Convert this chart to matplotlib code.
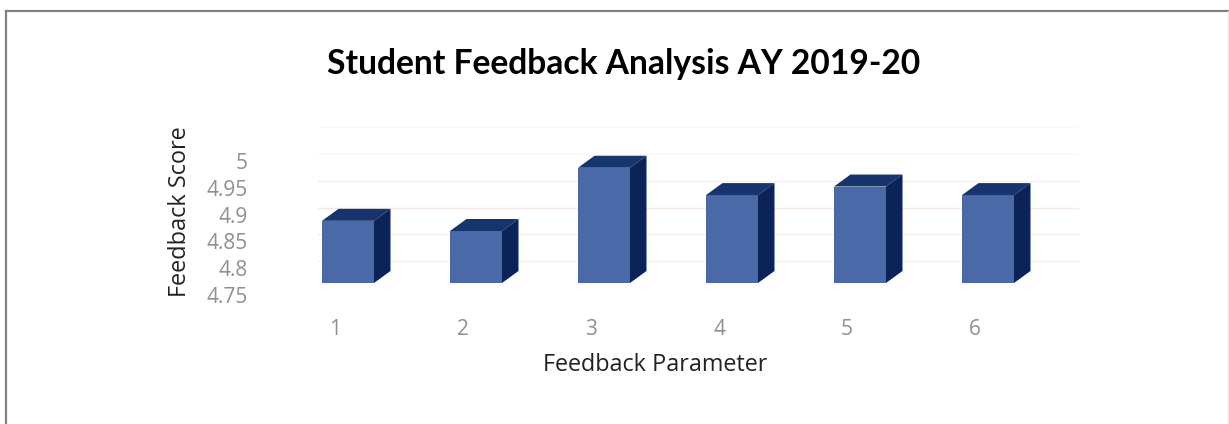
import matplotlib
matplotlib.use("Agg")
import matplotlib.pyplot as plt
from matplotlib.lines import Line2D
from matplotlib.patches import Polygon
from matplotlib.transforms import ScaledTranslation

# values
params = [1, 2, 3, 4, 5, 6]
scores = [4.866, 4.847, 4.965, 4.914, 4.93, 4.914]
yticks = [4.75, 4.8, 4.85, 4.9, 4.95, 5]
ylabels = ['4.75', '4.8', '4.85', '4.9', '4.95', '5']
grid_levels = [4.8, 4.85, 4.9, 4.95, 5, 5.05]
grid_colors = ['#f8eeee', '#f7eded', '#f7e9e9', '#f8ecec', '#f9f6f6', '#fbfafa']

W, H = 1229, 424
plt.rcParams['font.family'] = ['Open Sans', 'DejaVu Sans']
fig = plt.figure(figsize=(W/100, H/100), dpi=100, facecolor='white')

# axes placed in pixels: x=1 sits at 348 px, 128 px per category
left, right, top, bottom = 262, 1078, 120, 283
ax = fig.add_axes([left/W, 1-bottom/H, (right-left)/W, (bottom-top)/H])
ax.set_xlim(1+(left-348)/128, 1+(right-348)/128)
ppv = 26.8/0.05  # px per unit of score
ax.set_ylim(4.75, 4.75+(bottom-top)/ppv)
for s in ax.spines.values():
    s.set_visible(False)

# 3d look
bar_w = 52/128
dx = 16.5/128
dy = 12/ppv
front = '#4a69a8'
roof = '#17346f'
side = '#0c2358'

# faint back wall lines, they sit a bit lower than the front scale
grid_shift = ScaledTranslation(0, -5/100, fig.dpi_scale_trans)
for g, c in zip(grid_levels, grid_colors):
    ax.plot([1+(318-348)/128, ax.get_xlim()[1]], [g, g], color=c, lw=1,
            transform=ax.transData+grid_shift, zorder=1, clip_on=False)

ax.bar(params, [s-4.75 for s in scores], bottom=4.75, width=bar_w, color=front, zorder=3)
for p, s in zip(params, scores):
    x0, x1 = p-bar_w/2, p+bar_w/2
    ax.add_patch(Polygon([(x0, s), (x1, s), (x1+dx, s+dy), (x0+dx, s+dy)], color=roof, lw=0, zorder=3))
    ax.add_patch(Polygon([(x1, 4.75), (x1+dx, 4.75+dy), (x1+dx, s+dy), (x1, s)], color=side, lw=0, zorder=3))

ax.set_xticks(params)
ax.set_xticklabels(params)
ax.set_yticks(yticks)
ax.set_yticklabels(ylabels)
ax.tick_params(length=0, labelcolor='#8f8f8f', labelsize=15)
ax.tick_params(axis='y', pad=10)
ax.tick_params(axis='x', pad=26)

# labels are drawn down and left of the front face, like the 3d original
xoff = ScaledTranslation(-13/100, 0, fig.dpi_scale_trans)
yoff = ScaledTranslation(0, -12/100, fig.dpi_scale_trans)
for lab in ax.get_xticklabels():
    lab.set_transform(lab.get_transform()+xoff)
for lab in ax.get_yticklabels():
    lab.set_transform(lab.get_transform()+yoff)

fig.text(624/W, 1-64/H, 'Student Feedback Analysis AY 2019-20', fontsize=24.2, fontweight='bold',
         family=['Lato', 'DejaVu Sans'], color='black', ha='center', va='center')
fig.text(180/W, 1-212/H, 'Feedback Score', fontsize=16.9, color='#222222', rotation=90,
         ha='center', va='center')
fig.text(655/W, 1-365/H, 'Feedback Parameter', fontsize=16.8, color='#222222', ha='center', va='center')

# scanned frame
frame = '#808080'
fig.add_artist(Line2D([6/W, 1], [1-11/H, 1-11/H], color=frame, lw=1.6))
fig.add_artist(Line2D([6/W, 6/W], [0, 1-11/H], color=frame, lw=1.6))
fig.add_artist(Line2D([1228/W, 1228/W], [0, 1-11/H], color='#e4e4e4', lw=1))

fig.savefig('out.png', dpi=100, facecolor='white')
